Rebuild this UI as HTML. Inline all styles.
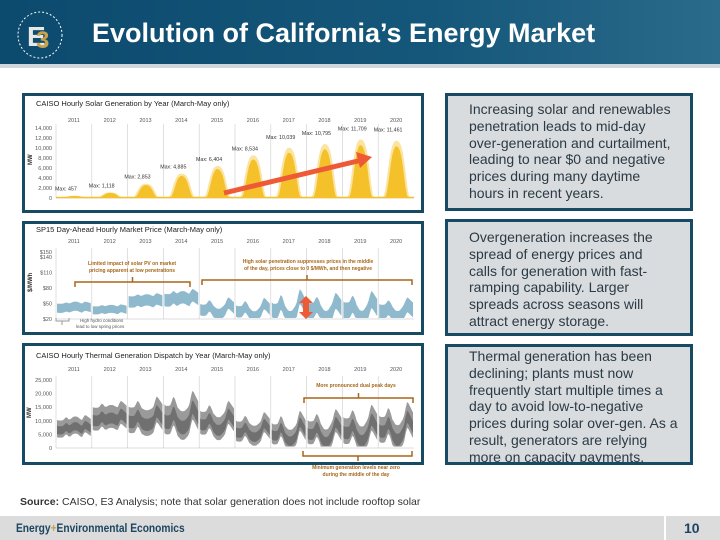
<!DOCTYPE html>
<html><head><meta charset="utf-8"><style>
body{margin:0;width:720px;height:540px;overflow:hidden;background:#fff;font-family:"Liberation Sans",sans-serif;position:relative}
.box{position:absolute;box-sizing:border-box;border:3px solid #174a63}
.txt{position:absolute;box-sizing:border-box;border:3px solid #174a63;background:#d9dcdf;color:#2b3a44;font-size:14px;line-height:16.8px;padding:5px 12px 0 21px;overflow:hidden}
</style></head><body>
<div style="position:absolute;left:0;top:0;width:720px;height:64px;background:linear-gradient(90deg,#0c4a6e,#15577a 60%,#2a6a8a)"></div>
<div style="position:absolute;left:0;top:64px;width:720px;height:4px;background:#cfd6dc"></div>
<svg style="position:absolute;left:16px;top:10px" width="52" height="52"><ellipse cx="24" cy="25" rx="22" ry="23" fill="none" stroke="#fff" stroke-dasharray="2 2"/><text x="11" y="36" font-size="28" font-weight="bold" fill="#e8e8e8" font-family="Liberation Sans">E</text><text x="20" y="38" font-size="24" font-weight="bold" fill="#c9a24a" font-family="Liberation Sans">3</text></svg>
<div style="position:absolute;left:92px;top:18px;color:#fff;font-size:27px;font-weight:bold;white-space:nowrap">Evolution of California’s Energy Market</div>

<div class="box" style="left:22px;top:93px;width:402px;height:120px"></div>
<div class="box" style="left:22px;top:221px;width:402px;height:114px"></div>
<div class="box" style="left:22px;top:343px;width:402px;height:122px"></div>

<svg id="ch" style="position:absolute;left:0;top:0" width="720" height="540" font-family="Liberation Sans"></svg>

<div class="txt" style="left:445px;top:93px;width:248px;height:118px">Increasing solar and renewables penetration leads to mid-day over-generation and curtailment, leading to near $0 and negative prices during many daytime hours in recent years.</div>
<div class="txt" style="left:445px;top:219px;width:248px;height:117px;padding-top:7px;padding-right:20px">Overgeneration increases the spread of energy prices and calls for generation with fast-ramping capability. Larger spreads across seasons will attract energy storage.</div>
<div class="txt" style="left:445px;top:344px;width:248px;height:121px;padding-top:1px;padding-right:8px">Thermal generation has been declining; plants must now frequently start multiple times a day to avoid low-to-negative prices during solar over-gen. As a result, generators are relying more on capacity payments.</div>

<div style="position:absolute;left:20px;top:496px;font-size:10.5px;color:#333"><b>Source:</b> CAISO, E3 Analysis; note that solar generation does not include rooftop solar</div>
<div style="position:absolute;left:0;top:516px;width:720px;height:24px;background:#dcdcdc"></div>
<div style="position:absolute;left:664px;top:516px;width:2px;height:24px;background:#fff"></div>
<div style="position:absolute;left:16px;top:521px;font-size:12px;color:#1d4560;font-weight:bold;transform:scaleX(.85);transform-origin:left">Energy<span style="color:#c9a24a">+</span>Environmental Economics</div>
<div style="position:absolute;left:684px;top:520px;font-size:14px;font-weight:bold;color:#1d4560">10</div>

<script>
const years=["2011","2012","2013","2014","2015","2016","2017","2018","2019","2020"];
const solarMax=[457,1118,2853,4885,6404,8534,10039,10795,11709,11461];
const solarLabels=["Max: 457","Max: 1,118","Max: 2,853","Max: 4,885","Max: 6,404","Max: 8,534","Max: 10,039","Max: 10,795","Max: 11,709","Max: 11,461"];
const solarTicks=[0,2000,4000,6000,8000,10000,12000,14000];
const solarShape=[0,0,0,0.03,0.12,0.3,0.5,0.68,0.82,0.92,0.97,1,1,0.99,0.96,0.9,0.8,0.64,0.44,0.22,0.06,0,0,0];
const priceTicks=[20,50,80,110,140,150];
const priceTickLabels=["$20","$50","$80","$110","$140","$150"];
const priceBase=[40,36,52,55,36,33,34,34,34,32];
const priceDip=[-4,-3,-4,-6,8,10,14,15,16,12];
const priceEve=[4,4,6,10,14,16,28,20,22,14];
const priceSpread=[16,14,20,22,20,20,26,28,30,26];
const thermTicks=[0,5000,10000,15000,20000,25000];
const thermBase=[6500,10000,9500,9500,8500,5500,4500,5000,5500,6000];
const thermDip=[-1500,-1000,1000,2000,2000,1500,2000,3000,3000,3000];
const thermEve=[2000,2500,4000,5500,4000,3500,5000,4500,5000,5500];
const thermSpread=[6000,8000,9000,10000,8000,7000,7000,8000,9000,9000];
const duck=[0.1,0,0,0,0.05,0.3,0.6,0.5,0.2,-0.3,-0.6,-0.9,-1,-1,-0.9,-0.6,-0.3,0.1,0.6,1,0.9,0.7,0.5,0.3];

const svg=document.getElementById('ch');const NS='http://www.w3.org/2000/svg';
function el(t,a,txt){const e=document.createElementNS(NS,t);for(const k in a)e.setAttribute(k,a[k]);if(txt!==undefined)e.textContent=txt;svg.appendChild(e);return e;}
const X0=56,X1=414,YW=(X1-X0)/years.length;
function xh(y,h){return X0+y*YW+1+h/23*(YW-2);}
function frame(title,ty,yTop,yBot,ticks,labels,ys,yl,nm){
 let t=el('text',{x:36,y:ty,'font-size':7.5,fill:'#222'},title);
 years.forEach((yr,i)=>{let e=el('text',{x:X0+(i+.5)*YW,y:yl,'font-size':5.5,fill:'#555','text-anchor':'middle'},yr);
  let l=el('line',{x1:X0+i*YW,x2:X0+i*YW,y1:yTop-4,y2:yBot,stroke:'#ccc','stroke-width':.6});});
 ticks.forEach((v,i)=>{let e=el('text',{x:X0-4,y:ys(v)+2,'font-size':5.5,fill:'#555','text-anchor':'end'},labels[i]);});
 let a=el('line',{x1:X0,x2:X1,y1:yBot,y2:yBot,stroke:'#bbb','stroke-width':.6});
}
// Solar
const sTop=128,sBot=198,sy=v=>sBot-v/14000*(sBot-sTop);
frame("CAISO Hourly Solar Generation by Year (March-May only)",106,sTop,sBot,solarTicks,solarTicks.map(v=>v.toLocaleString('en-US')),sy,122,'solar');
el('text',{x:32,y:165,'font-size':6,fill:'#333',transform:'rotate(-90 32 165)','font-weight':'bold'},'MW');
years.forEach((yr,i)=>{let d='M'+xh(i,0)+' '+sBot;solarShape.forEach((s,h)=>d+=' L'+xh(i,h)+' '+sy(solarMax[i]*s));d+=' L'+xh(i,23)+' '+sBot+'Z';
 let p=el('path',{d:d,fill:'#fbe3a0'});
 let d2='M'+xh(i,0)+' '+sBot;solarShape.forEach((s,h)=>d2+=' L'+xh(i,h)+' '+sy(solarMax[i]*s*s*0.9));d2+=' L'+xh(i,23)+' '+sBot+'Z';
 let p2=el('path',{d:d2,fill:'#f4c12a'});
 let t=el('text',{x:X0+(i+.5)*YW-8,y:sy(solarMax[i])-5-(i>5?4:0),'font-size':5.3,fill:'#333','text-anchor':'middle'},solarLabels[i]);});
el('line',{x1:X0,x2:X1,y1:sBot-0.5,y2:sBot-0.5,stroke:'#f4c12a','stroke-width':1.5});
let ar=el('line',{x1:224,y1:193,x2:362,y2:160,stroke:'#ee5a36','stroke-width':5});
el('polygon',{points:'372,157 356,152 360,168',fill:'#ee5a36'});
// Price
const pTop=252,pBot=319,py=v=>pBot-(v-20)/130*(pBot-pTop);
frame("SP15 Day-Ahead Hourly Market Price (March-May only)",232,pTop,pBot,priceTicks,priceTickLabels,py,243,'price');
el('text',{x:32,y:292,'font-size':6,fill:'#333',transform:'rotate(-90 32 292)','font-weight':'bold'},'$/MWh');
years.forEach((yr,i)=>{let up='',dn='';for(let h=0;h<24;h++){const m=priceBase[i]+(duck[h]<0?-priceDip[i]*(-duck[h]):priceEve[i]*duck[h]);
 up+=(h?' L':'M')+xh(i,h)+' '+py(m+priceSpread[i]*0.6);dn=' L'+xh(i,h)+' '+py(Math.max(22,m-priceSpread[i]*0.5))+dn;}
 let p=el('path',{d:up+dn+'Z',fill:'#8fb9cc'});});
const brown='#a8671a';
function bracket(x1,x2,y,nm){let p=el('path',{d:`M${x1} ${y+5}V${y}H${x2}V${y+5}M${(x1+x2)/2} ${y}v-5`,fill:'none',stroke:brown,'stroke-width':1.5});}
bracket(75,190,282,'low-solar-bracket');bracket(202,412,280,'high-solar-bracket');
el('text',{x:132,y:265,'font-size':5,fill:brown,'text-anchor':'middle','font-weight':'bold'},'Limited impact of solar PV on market');
el('text',{x:132,y:272,'font-size':5,fill:brown,'text-anchor':'middle','font-weight':'bold'},'pricing apparent at low penetrations');
el('text',{x:308,y:263,'font-size':5,fill:brown,'text-anchor':'middle','font-weight':'bold'},'High solar penetration suppresses prices in the middle');
el('text',{x:308,y:270,'font-size':5,fill:brown,'text-anchor':'middle','font-weight':'bold'},'of the day, prices close to 0 $/MWh, and then negative');
el('text',{x:80,y:322,'font-size':4.5,fill:'#555'},'High hydro conditions');el('text',{x:76,y:328,'font-size':4.5,fill:'#555'},'lead to low spring prices');
el('path',{d:'M56 318v3h13v-3M62 321v4',fill:'none',stroke:'#999','stroke-width':1});
let da=el('path',{d:'M306 296l-7 7h4v9h-4l7 7l7-7h-4v-9h4z',fill:'#ee5a36'});
// Thermal
const tTop=380,tBot=448,ty=v=>tBot-v/25000*(tBot-tTop);
frame("CAISO Hourly Thermal Generation Dispatch by Year (March-May only)",358,tTop,tBot,thermTicks,thermTicks.map(v=>v.toLocaleString('en-US')),ty,371,'thermal');
el('text',{x:31,y:418,'font-size':6,fill:'#333',transform:'rotate(-90 31 418)','font-weight':'bold'},'MW');
years.forEach((yr,i)=>{let up='',dn='';for(let h=0;h<24;h++){const m=thermBase[i]+(duck[h]<0?thermDip[i]*duck[h]:thermEve[i]*duck[h]);
 up+=(h?' L':'M')+xh(i,h)+' '+ty(m+thermSpread[i]*0.6);dn=' L'+xh(i,h)+' '+ty(Math.max(500,m-thermSpread[i]*0.45))+dn;}
 let p=el('path',{d:up+dn+'Z',fill:'#9a9a9a'});
 let up2='',dn2='';for(let h=0;h<24;h++){const m=thermBase[i]+(duck[h]<0?thermDip[i]*duck[h]:thermEve[i]*duck[h]);
 up2+=(h?' L':'M')+xh(i,h)+' '+ty(m+thermSpread[i]*0.25);dn2=' L'+xh(i,h)+' '+ty(Math.max(800,m-thermSpread[i]*0.25))+dn2;}
 let q=el('path',{d:up2+dn2+'Z',fill:'#707070'});});
el('text',{x:356,y:387,'font-size':5,fill:brown,'text-anchor':'middle','font-weight':'bold'},'More pronounced dual peak days');
bracket(304,413,398,'dual-peak-bracket');
let bb=el('path',{d:'M303 451v5H412v-5M358 456v5',fill:'none',stroke:brown,'stroke-width':1.5});
el('text',{x:356,y:469,'font-size':5,fill:brown,'text-anchor':'middle','font-weight':'bold'},'Minimum generation levels near zero');
el('text',{x:356,y:476,'font-size':5,fill:brown,'text-anchor':'middle','font-weight':'bold'},'during the middle of the day');
</script>
</body></html>
